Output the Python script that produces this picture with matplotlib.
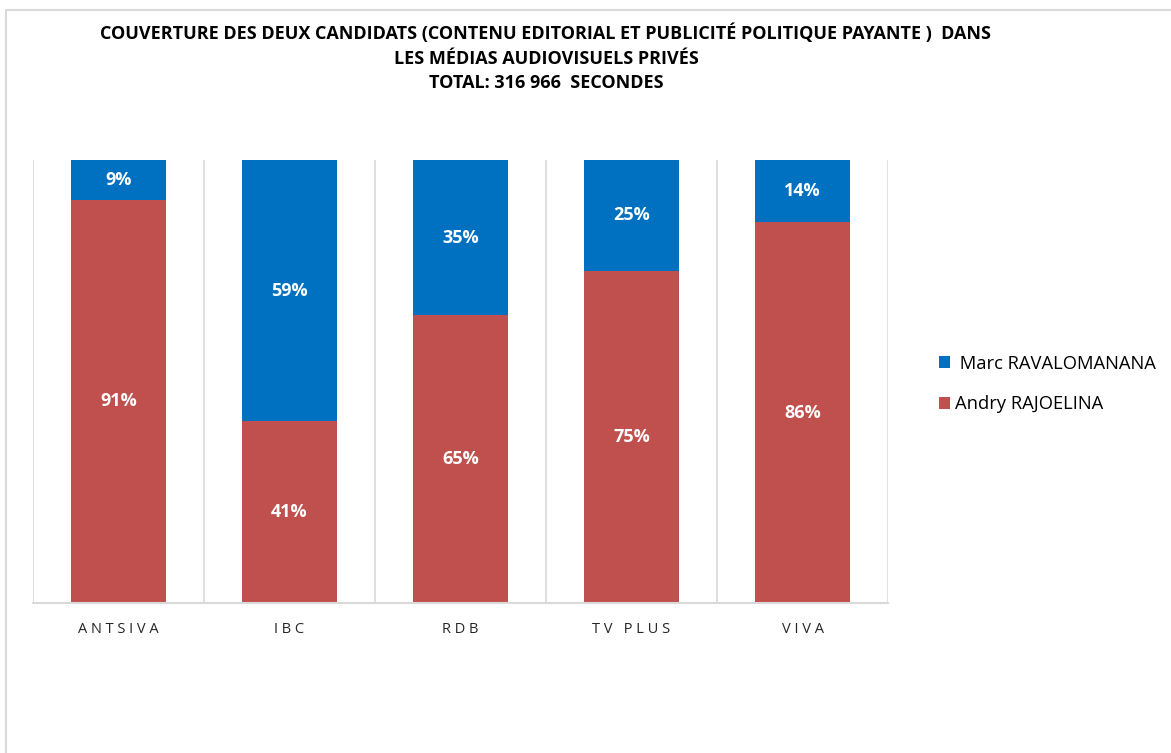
import matplotlib.pyplot as plt
from matplotlib.patches import Rectangle
import numpy as np

# ================= DATI =================
medias = ['ANTSIVA', 'IBC', 'RDB', 'TV PLUS', 'VIVA']
rajoelina = [91, 41, 65, 75, 86]
ravalomanana = [9, 59, 35, 25, 14]
series_names = [' Marc RAVALOMANANA', 'Andry RAJOELINA']
title = ("COUVERTURE DES DEUX CANDIDATS (CONTENU EDITORIAL ET PUBLICITÉ POLITIQUE PAYANTE )  DANS\n"
         "LES MÉDIAS AUDIOVISUELS PRIVÉS\n"
         "TOTAL: 316 966  SECONDES")
# ========================================

BLUE = '#0070C0'
RED = '#C0504D'
GRID = '#D9D9D9'

plt.rcParams['font.family'] = ['Open Sans', 'DejaVu Sans']

fig = plt.figure(figsize=(11.71, 7.53), dpi=100)
# cornice del grafico
fig.patches.append(Rectangle((6 / 1171, -0.1), 1.2, (753 - 10) / 753 + 0.1,
                             transform=fig.transFigure, fill=False,
                             edgecolor=GRID, linewidth=1.5))

ax = fig.add_axes([33 / 1171, 150 / 753, 855 / 1171, 443 / 753])

x = np.arange(len(medias))
w = 0.56
ax.bar(x, rajoelina, w, color=RED, label=series_names[1], zorder=2)
ax.bar(x, ravalomanana, w, bottom=rajoelina, color=BLUE, label=series_names[0], zorder=2)

for i in range(len(medias)):
    ax.text(x[i], rajoelina[i] / 2, f'{rajoelina[i]}%', ha='center', va='center',
            color='white', fontsize=13, fontweight='bold', zorder=3)
    ax.text(x[i], rajoelina[i] + ravalomanana[i] / 2, f'{ravalomanana[i]}%',
            ha='center', va='center', color='white', fontsize=13,
            fontweight='bold', zorder=3)

ax.set_xlim(-0.5, len(medias) - 0.5)
ax.set_ylim(0, 100)
for b in np.arange(-0.5, len(medias), 1.0):
    ax.axvline(b, color=GRID, linewidth=1.2, zorder=1)

for s in ['top', 'left', 'right']:
    ax.spines[s].set_visible(False)
ax.spines['bottom'].set_color(GRID)
ax.spines['bottom'].set_linewidth(1.5)
ax.set_yticks([])
ax.set_xticks(x)
ax.set_xticklabels([' '.join(m) for m in medias], fontsize=10.5, color='#262626')
ax.tick_params(axis='x', length=0, pad=14)

fig.text(546 / 1171, 1 - 24 / 753, title, ha='center', va='top',
         fontsize=13, fontweight='bold', linespacing=1.45)

handles, labels = ax.get_legend_handles_labels()
ax.legend(handles[::-1], labels[::-1], loc='center left',
          bbox_to_anchor=(922 / 1171, 369 / 753), bbox_transform=fig.transFigure,
          frameon=False, fontsize=13.2, handlelength=0.6, handleheight=0.6,
          handletextpad=0.3, labelspacing=1.25)

plt.savefig('out.png', dpi=100)
